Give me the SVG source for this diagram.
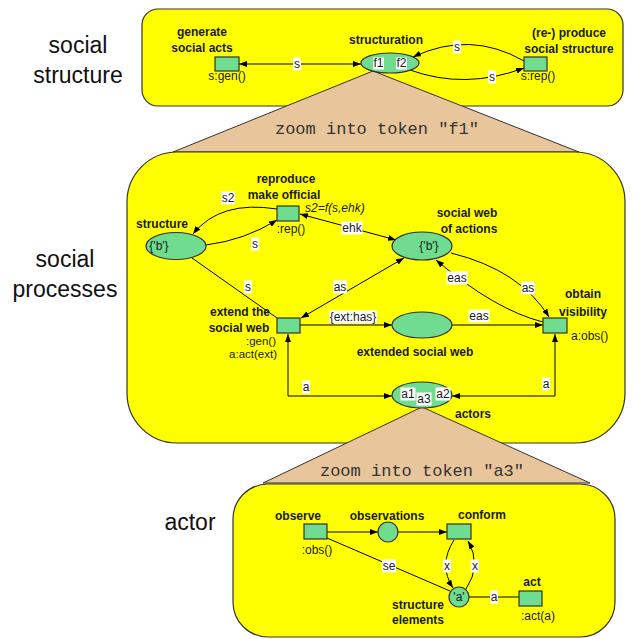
<svg xmlns="http://www.w3.org/2000/svg" width="639" height="639" viewBox="0 0 639 639">
<defs>
<marker id="ah" viewBox="0 0 8 6" refX="8" refY="3" markerWidth="8" markerHeight="6" markerUnits="userSpaceOnUse" orient="auto-start-reverse"><path d="M0,0 L8,3 L0,6 z" fill="#000"/></marker>
</defs>
<style>
.panel{fill:#ffff00;stroke:#333;stroke-width:1.2}
.tri{fill:#e9c59b;stroke:#333;stroke-width:1}
.node{fill:#6fdc8f;stroke:#333;stroke-width:1.2}
.e{fill:none;stroke:#000;stroke-width:1}
.a{marker-end:url(#ah)}
.aa{marker-start:url(#ah);marker-end:url(#ah)}
text{font-family:"Liberation Sans",Arial,sans-serif;font-size:12px;fill:#1a1a1a}
.b{font-weight:bold;text-anchor:middle}
.m{text-anchor:middle}
.sm{font-size:11.5px;text-anchor:end}
.big{font-size:23px;text-anchor:middle;fill:#111}
.mono{font-family:"Liberation Mono","Courier New",monospace;font-size:17px;text-anchor:middle;fill:#333}
.lb{fill:#fff}
</style>
<g id="background">
<rect class="panel" x="142" y="9" width="481" height="97" rx="16"/>
<polygon class="tri" points="373,71 173,152 579,152"/>
<rect class="panel" x="127" y="152" width="498" height="291" rx="50"/>
<polygon class="tri" points="422,407 263,483 590,483"/>
<rect class="panel" x="233" y="484" width="382" height="153" rx="35"/>
<text class="mono" x="377" y="134">zoom into token "f1"</text>
<text class="mono" x="422" y="476">zoom into token "a3"</text>
<text class="big" x="78" y="53">social</text>
<text class="big" x="78" y="83">structure</text>
<text class="big" x="65" y="267">social</text>
<text class="big" x="65" y="297">processes</text>
<text class="big" x="190" y="530">actor</text>
</g>
<g id="connectors">
<path class="e aa" d="M239,64 L361,64"/>
<path class="e a" d="M524,61 Q470,30 413,57"/>
<path class="e a" d="M410,70 Q465,90 524,68"/>
<path class="e a" d="M277,209 Q220,200 193,234"/>
<path class="e a" d="M206,245 Q245,240 277,220"/>
<path class="e aa" d="M300,214 L396,240"/>
<path class="e" d="M192,258 L277,318"/>
<path class="e aa" d="M301,318 L404,258"/>
<path class="e a" d="M300,325 L392,325"/>
<path class="e a" d="M452,325 L543,325"/>
<path class="e a" d="M543,322 Q495,310 436,260"/>
<path class="e a" d="M451,253 Q520,270 549,317"/>
<path class="e aa" d="M392,396 L288,396 L288,334"/>
<path class="e aa" d="M452,396 L555,396 L555,334"/>
<path class="e a" d="M327,532 L378,532"/>
<path class="e a" d="M398,532 L447,532"/>
<path class="e" d="M327,538 L450,591"/>
<path class="e a" d="M454,540 Q438,565 453,588"/>
<path class="e a" d="M466,589 Q482,565 468,541"/>
<path class="e" d="M469,597 L519,597"/>
<g id="edge-labels">
<rect class="lb" x="293" y="57.5" width="8" height="13"/><text class="m" x="297" y="68">s</text>
<rect class="lb" x="453" y="40.5" width="8" height="13"/><text class="m" x="457" y="51">s</text>
<rect class="lb" x="488" y="70.5" width="8" height="13"/><text class="m" x="492" y="81">s</text>
<rect class="lb" x="221" y="191.5" width="14" height="13"/><text class="m" x="228" y="202">s2</text>
<rect class="lb" x="251" y="237.5" width="8" height="13"/><text class="m" x="255" y="248">s</text>
<rect class="lb" x="341.5" y="221.5" width="21" height="13"/><text class="m" x="352" y="232">ehk</text>
<rect class="lb" x="244" y="280.5" width="8" height="13"/><text class="m" x="248" y="291">s</text>
<rect class="lb" x="333" y="280.5" width="14" height="13"/><text class="m" x="340" y="291">as</text>
<rect class="lb" x="446.5" y="271.5" width="21" height="13"/><text class="m" x="457" y="282">eas</text>
<rect class="lb" x="521" y="281.5" width="14" height="13"/><text class="m" x="528" y="292">as</text>
<rect class="lb" x="329" y="310.5" width="48" height="13"/><text class="m" x="353" y="321">{ext:has}</text>
<rect class="lb" x="468.5" y="309.5" width="21" height="13"/><text class="m" x="479" y="320">eas</text>
<rect class="lb" x="302" y="380.5" width="8" height="13"/><text class="m" x="306" y="391">a</text>
<rect class="lb" x="542" y="377.5" width="8" height="13"/><text class="m" x="546" y="388">a</text>
<rect class="lb" x="382" y="559.5" width="14" height="13"/><text class="m" x="389" y="570">se</text>
<rect class="lb" x="443" y="559.5" width="8" height="13"/><text class="m" x="447" y="570">x</text>
<rect class="lb" x="471" y="559.5" width="8" height="13"/><text class="m" x="475" y="570">x</text>
<rect class="lb" x="490" y="590.5" width="8" height="13"/><text class="m" x="494" y="601">a</text>
</g>
</g>
<g id="gen-social-acts">
<rect class="node" x="215" y="57" width="24" height="14"/>
<text class="b" x="202" y="36">generate</text>
<text class="b" x="202" y="52">social acts</text>
<text class="m" x="227" y="80">s:gen()</text>
</g>
<g id="structuration">
<ellipse class="node" cx="390" cy="63" rx="29" ry="10"/>
<text class="b" x="386" y="44">structuration</text>
<rect class="lb" x="373" y="57.5" width="11" height="12"/><text class="m" x="378.5" y="67">f1</text>
<rect class="lb" x="396" y="57.5" width="11" height="12"/><text class="m" x="401.5" y="67">f2</text>
</g>
<g id="reproduce-social-structure">
<rect class="node" x="524" y="57" width="23" height="14"/>
<text class="b" x="569" y="37">(re-) produce</text>
<text class="b" x="569" y="53">social structure</text>
<text class="m" x="538" y="80">s:rep()</text>
</g>
<g id="structure">
<ellipse class="node" cx="176" cy="246" rx="30" ry="13.5"/>
<text class="b" x="162" y="228">structure</text>
<text class="m" x="159" y="250">{'b'}</text>
</g>
<g id="reproduce-make-official">
<rect class="node" x="277" y="206" width="22" height="15"/>
<text class="b" x="286" y="183">reproduce</text>
<text class="b" x="284" y="199">make official</text>
<text x="305" y="212" font-style="italic">s2=f(s,ehk)</text>
<text class="m" x="291" y="233">:rep()</text>
</g>
<g id="social-web-of-actions">
<ellipse class="node" cx="422" cy="246" rx="30" ry="14"/>
<text class="b" x="467" y="217">social web</text>
<text class="b" x="469" y="233">of actions</text>
<text class="m" x="429" y="250">{'b'}</text>
</g>
<g id="extend-social-web">
<rect class="node" x="277" y="318" width="23" height="15"/>
<text class="b" x="240" y="316">extend the</text>
<text class="b" x="239" y="332">social web</text>
<text class="sm" x="276" y="345">:gen()</text>
<text class="sm" x="277" y="358">a:act(ext)</text>
</g>
<g id="extended-social-web">
<ellipse class="node" cx="422" cy="325" rx="30" ry="13"/>
<text class="b" x="415" y="356">extended social web</text>
</g>
<g id="obtain-visibility">
<rect class="node" x="543" y="318" width="24" height="15"/>
<text class="b" x="583" y="298">obtain</text>
<text class="b" x="583" y="316">visibility</text>
<text x="571" y="340">a:obs()</text>
</g>
<g id="actors">
<ellipse class="node" cx="422" cy="395" rx="30" ry="13"/>
<text class="b" x="473" y="418">actors</text>
<rect class="lb" x="400.5" y="387.5" width="15" height="13"/><text class="m" x="408" y="398">a1</text>
<rect class="lb" x="435.5" y="387.5" width="15" height="13"/><text class="m" x="443" y="398">a2</text>
<rect class="lb" x="416.5" y="392.5" width="15" height="13"/><text class="m" x="424" y="403">a3</text>
</g>
<g id="observe">
<rect class="node" x="304" y="524" width="23" height="15"/>
<text class="b" x="298" y="520">observe</text>
<text class="m" x="317" y="554">:obs()</text>
</g>
<g id="observations">
<circle class="node" cx="388" cy="532" r="10"/>
<text class="b" x="387" y="520">observations</text>
</g>
<g id="conform">
<rect class="node" x="447" y="524" width="24" height="15"/>
<text class="b" x="482" y="519">conform</text>
</g>
<g id="structure-elements">
<circle class="node" cx="459" cy="597" r="10"/>
<text class="m" x="459" y="601">'a'</text>
<text class="b" x="418" y="609">structure</text>
<text class="b" x="418" y="624">elements</text>
</g>
<g id="act">
<rect class="node" x="519" y="591" width="23" height="15"/>
<text class="b" x="532" y="586">act</text>
<text class="m" x="538" y="620">:act(a)</text>
</g>
</svg>
